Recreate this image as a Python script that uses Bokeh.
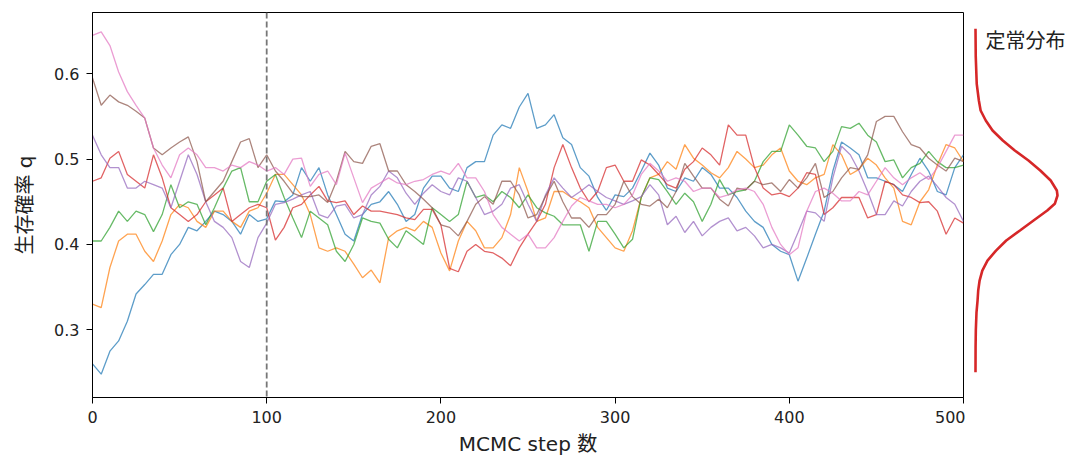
from bokeh.plotting import figure
from bokeh.models import Range1d, FixedTicker, Span, Label
from bokeh.layouts import row
from bokeh.embed import file_html
from bokeh.resources import INLINE

# ---------------- data ----------------
steps = list(range(0, 501, 5))

chain_blue = [0.26, 0.248, 0.275, 0.287, 0.31, 0.342, 0.353, 0.365, 0.365, 0.388,
              0.40, 0.42, 0.416, 0.427, 0.439, 0.435, 0.427, 0.412, 0.435, 0.427,
              0.43, 0.451, 0.45, 0.458, 0.49, 0.474, 0.49, 0.458, 0.435, 0.412,
              0.404, 0.435, 0.447, 0.45, 0.462, 0.447, 0.427, 0.435, 0.466, 0.48,
              0.48, 0.466, 0.462, 0.49, 0.497, 0.497, 0.528, 0.54, 0.536, 0.561,
              0.577, 0.536, 0.54, 0.552, 0.525, 0.517, 0.49, 0.48, 0.455, 0.44,
              0.458, 0.456, 0.466, 0.486, 0.507, 0.493, 0.466, 0.462, 0.478, 0.474,
              0.49, 0.482, 0.466, 0.466, 0.455, 0.439, 0.427, 0.42, 0.40, 0.392,
              0.388, 0.357, 0.384, 0.412, 0.439, 0.486, 0.52, 0.513, 0.505, 0.478,
              0.478, 0.474, 0.47, 0.462, 0.482, 0.501, 0.486, 0.462, 0.458, 0.49,
              0.505]
chain_orange = [0.33, 0.326, 0.373, 0.404, 0.412, 0.412, 0.392, 0.38, 0.404, 0.435,
                0.447, 0.443, 0.427, 0.42, 0.439, 0.439, 0.427, 0.42, 0.439, 0.443,
                0.46, 0.482, 0.482, 0.47, 0.458, 0.435, 0.396, 0.392, 0.396, 0.392,
                0.377, 0.361, 0.37, 0.355, 0.408, 0.416, 0.42, 0.416, 0.427, 0.42,
                0.39, 0.369, 0.404, 0.427, 0.416, 0.396, 0.396, 0.408, 0.435, 0.49,
                0.462, 0.427, 0.431, 0.462, 0.462, 0.455, 0.45, 0.443, 0.42, 0.408,
                0.396, 0.392, 0.416, 0.455, 0.478, 0.482, 0.497, 0.488, 0.517, 0.501,
                0.493, 0.484, 0.478, 0.49, 0.509, 0.5, 0.49, 0.493, 0.505, 0.513,
                0.486, 0.474, 0.47, 0.478, 0.482, 0.517, 0.505, 0.482, 0.488, 0.501,
                0.493, 0.478, 0.466, 0.427, 0.423, 0.45, 0.464, 0.493, 0.517, 0.513,
                0.497]
chain_green = [0.404, 0.404, 0.42, 0.439, 0.427, 0.439, 0.435, 0.415, 0.435, 0.47,
               0.443, 0.45, 0.447, 0.423, 0.443, 0.466, 0.486, 0.49, 0.45, 0.45,
               0.474, 0.482, 0.455, 0.431, 0.408, 0.439, 0.431, 0.423, 0.392, 0.38,
               0.40, 0.431, 0.427, 0.425, 0.406, 0.396, 0.416, 0.408, 0.40, 0.443,
               0.435, 0.427, 0.435, 0.474, 0.455, 0.458, 0.45, 0.462, 0.455, 0.443,
               0.458, 0.443, 0.437, 0.433, 0.423, 0.423, 0.423, 0.392, 0.427, 0.427,
               0.412, 0.396, 0.406, 0.455, 0.478, 0.476, 0.462, 0.447, 0.46, 0.45,
               0.427, 0.447, 0.476, 0.458, 0.462, 0.464, 0.474, 0.497, 0.509, 0.509,
               0.54, 0.528, 0.515, 0.513, 0.497, 0.509, 0.538, 0.536, 0.542, 0.528,
               0.52, 0.497, 0.499, 0.478, 0.49, 0.495, 0.509, 0.497, 0.49, 0.49,
               0.493]
chain_red = [0.474, 0.478, 0.501, 0.509, 0.482, 0.474, 0.466, 0.505, 0.478, 0.443,
             0.435, 0.427, 0.435, 0.45, 0.458, 0.466, 0.427, 0.435, 0.443, 0.447,
             0.443, 0.405, 0.42, 0.443, 0.447, 0.458, 0.468, 0.451, 0.449, 0.451,
             0.435, 0.445, 0.439, 0.439, 0.437, 0.435, 0.431, 0.429, 0.441, 0.441,
             0.423, 0.372, 0.368, 0.392, 0.40, 0.392, 0.39, 0.384, 0.375, 0.396,
             0.412, 0.427, 0.447, 0.49, 0.517, 0.49, 0.466, 0.45, 0.462, 0.49,
             0.493, 0.474, 0.474, 0.499, 0.493, 0.482, 0.47, 0.466, 0.488, 0.497,
             0.513, 0.505, 0.493, 0.54, 0.528, 0.528, 0.49, 0.466, 0.458, 0.46,
             0.456, 0.466, 0.484, 0.482, 0.435, 0.443, 0.455, 0.455, 0.455, 0.431,
             0.435, 0.474, 0.47, 0.458, 0.455, 0.449, 0.45, 0.439, 0.412, 0.431,
             0.425]
chain_purple = [0.528, 0.505, 0.49, 0.49, 0.466, 0.466, 0.474, 0.47, 0.466, 0.443,
                0.474, 0.505, 0.482, 0.45, 0.427, 0.42, 0.408, 0.38, 0.373, 0.408,
                0.425, 0.447, 0.449, 0.453, 0.458, 0.462, 0.435, 0.431, 0.445, 0.447,
                0.431, 0.435, 0.458, 0.468, 0.486, 0.478, 0.46, 0.447, 0.46, 0.47,
                0.462, 0.458, 0.478, 0.474, 0.455, 0.435, 0.439, 0.447, 0.466, 0.47,
                0.447, 0.427, 0.458, 0.478, 0.466, 0.455, 0.462, 0.47, 0.462, 0.455,
                0.451, 0.447, 0.451, 0.456, 0.47, 0.458, 0.423, 0.433, 0.414, 0.427,
                0.41, 0.42, 0.427, 0.431, 0.416, 0.42, 0.41, 0.396, 0.40, 0.396,
                0.39, 0.414, 0.439, 0.437, 0.427, 0.478, 0.515, 0.505, 0.486, 0.462,
                0.435, 0.435, 0.451, 0.445, 0.462, 0.474, 0.48, 0.468, 0.455, 0.447,
                0.427]
chain_brown = [0.595, 0.563, 0.575, 0.567, 0.563, 0.556, 0.548, 0.513, 0.505, 0.513,
               0.52, 0.526, 0.497, 0.45, 0.462, 0.474, 0.497, 0.52, 0.524, 0.49,
               0.505, 0.486, 0.474, 0.46, 0.456, 0.456, 0.458, 0.449, 0.474, 0.509,
               0.497, 0.495, 0.515, 0.518, 0.486, 0.486, 0.47, 0.462, 0.453, 0.443,
               0.423, 0.42, 0.41, 0.427, 0.447, 0.456, 0.447, 0.474, 0.474, 0.458,
               0.431, 0.435, 0.456, 0.474, 0.45, 0.431, 0.431, 0.42, 0.435, 0.435,
               0.447, 0.474, 0.456, 0.447, 0.445, 0.453, 0.443, 0.462, 0.495, 0.48,
               0.466, 0.466, 0.453, 0.445, 0.466, 0.464, 0.474, 0.47, 0.472, 0.462,
               0.476, 0.466, 0.478, 0.495, 0.455, 0.462, 0.478, 0.49, 0.488, 0.505,
               0.544, 0.55, 0.55, 0.532, 0.517, 0.513, 0.501, 0.493, 0.486, 0.501,
               0.497]
chain_pink = [0.645, 0.649, 0.633, 0.602, 0.579, 0.563, 0.548, 0.513, 0.493, 0.478,
              0.505, 0.513, 0.505, 0.49, 0.49, 0.486, 0.493, 0.49, 0.497, 0.493,
              0.486, 0.49, 0.482, 0.5, 0.501, 0.468, 0.482, 0.486, 0.47, 0.507,
              0.478, 0.449, 0.466, 0.472, 0.478, 0.472, 0.47, 0.474, 0.476, 0.482,
              0.486, 0.482, 0.495, 0.478, 0.478, 0.462, 0.435, 0.42, 0.412, 0.404,
              0.412, 0.396, 0.396, 0.408, 0.427, 0.445, 0.455, 0.451, 0.447, 0.447,
              0.443, 0.447, 0.458, 0.482, 0.495, 0.486, 0.474, 0.478, 0.474, 0.462,
              0.466, 0.466, 0.455, 0.458, 0.464, 0.466, 0.462, 0.447, 0.42, 0.40,
              0.388, 0.396, 0.439, 0.462, 0.466, 0.46, 0.451, 0.451, 0.462, 0.458,
              0.474, 0.49, 0.478, 0.47, 0.478, 0.484, 0.476, 0.49, 0.509, 0.528,
              0.528]

chains = [chain_blue, chain_orange, chain_green, chain_red,
          chain_purple, chain_brown, chain_pink]
chain_colors = ["#1f77b4", "#ff7f0e", "#2ca02c", "#d62728",
                "#9467bd", "#8c564b", "#e377c2"]

burn_in = 100

# stationary distribution curve (q, relative density)
stat_q = [0.6526, 0.62, 0.588, 0.5686, 0.5569, 0.5452, 0.5335, 0.5217, 0.510,
          0.4983, 0.4866, 0.4749, 0.4632, 0.4573, 0.4476, 0.4397, 0.428, 0.4163,
          0.4046, 0.3928, 0.3811, 0.3694, 0.3577, 0.346, 0.3343, 0.32, 0.30,
          0.28, 0.2503]
stat_d = [0.0, 0.003, 0.015, 0.041, 0.0625, 0.125, 0.208, 0.333, 0.479,
          0.646, 0.79, 0.917, 0.992, 1.0, 0.967, 0.875, 0.708, 0.542,
          0.375, 0.25, 0.146, 0.083, 0.05, 0.033, 0.025, 0.012, 0.004,
          0.001, 0.0]

x_ticks = [0, 100, 200, 300, 400, 500]
y_ticks = [0.3, 0.4, 0.5, 0.6]

x_label = "MCMC step 数"
y_label = "生存確率 q"
dist_label = "定常分布"

# ---------------- styling ----------------
FONT = "DejaVu Sans, Noto Sans CJK JP"
TXT = "#222222"

yr = Range1d(0.2207, 0.6717)

p = figure(width=965, height=461, x_range=Range1d(0, 500), y_range=yr,
           output_backend="svg", toolbar_location=None,
           min_border_left=92, min_border_right=2,
           min_border_top=12, min_border_bottom=64)
p.background_fill_color = "white"
p.border_fill_color = "white"
p.outline_line_color = "black"
p.outline_line_width = 1
p.outline_line_alpha = 1
p.grid.visible = False

for vals, col in zip(chains, chain_colors):
    p.line(steps, vals, line_color=col, line_alpha=0.72, line_width=1.3)

p.add_layout(Span(location=burn_in, dimension="height", line_color="#777777",
                  line_dash="6 3", line_width=1.8))

for ax in (p.xaxis[0], p.yaxis[0]):
    ax.axis_line_color = "black"
    ax.axis_line_width = 1
    ax.major_tick_line_color = "black"
    ax.major_tick_in = 0
    ax.major_tick_out = 6
    ax.minor_tick_line_color = None
    ax.major_label_text_font = FONT
    ax.major_label_text_font_size = "16px"
    ax.major_label_text_color = TXT
    ax.axis_label_text_font = FONT
    ax.axis_label_text_font_size = "20px"
    ax.axis_label_text_font_style = "normal"
    ax.axis_label_text_color = TXT

p.xaxis.ticker = FixedTicker(ticks=x_ticks)
p.yaxis.ticker = FixedTicker(ticks=y_ticks)
p.xaxis.major_label_standoff = 7
p.yaxis.major_label_standoff = 7

p.xaxis.axis_label = x_label
p.xaxis.axis_label_standoff = 6
p.yaxis.axis_label = y_label
p.yaxis.axis_label_standoff = 14

# ---------------- stationary distribution panel ----------------
p2 = figure(width=110, height=461, x_range=Range1d(-0.122, 1.2195), y_range=yr,
            output_backend="svg", toolbar_location=None,
            x_axis_location=None, y_axis_location=None,
            min_border_left=0, min_border_right=0,
            min_border_top=12, min_border_bottom=64)
p2.outline_line_color = None
p2.grid.visible = False
p2.background_fill_color = "white"
p2.border_fill_color = "white"
p2.line(stat_d, stat_q, line_color="#d62728", line_width=2.6)
p2.add_layout(Label(x=0.122, y=0.6389, text=dist_label,
                    text_align="left", text_baseline="middle",
                    text_font=FONT, text_font_size="20px", text_color=TXT))

layout = row(p, p2)

with open("out.html", "w") as f:
    f.write(file_html(layout, INLINE))
